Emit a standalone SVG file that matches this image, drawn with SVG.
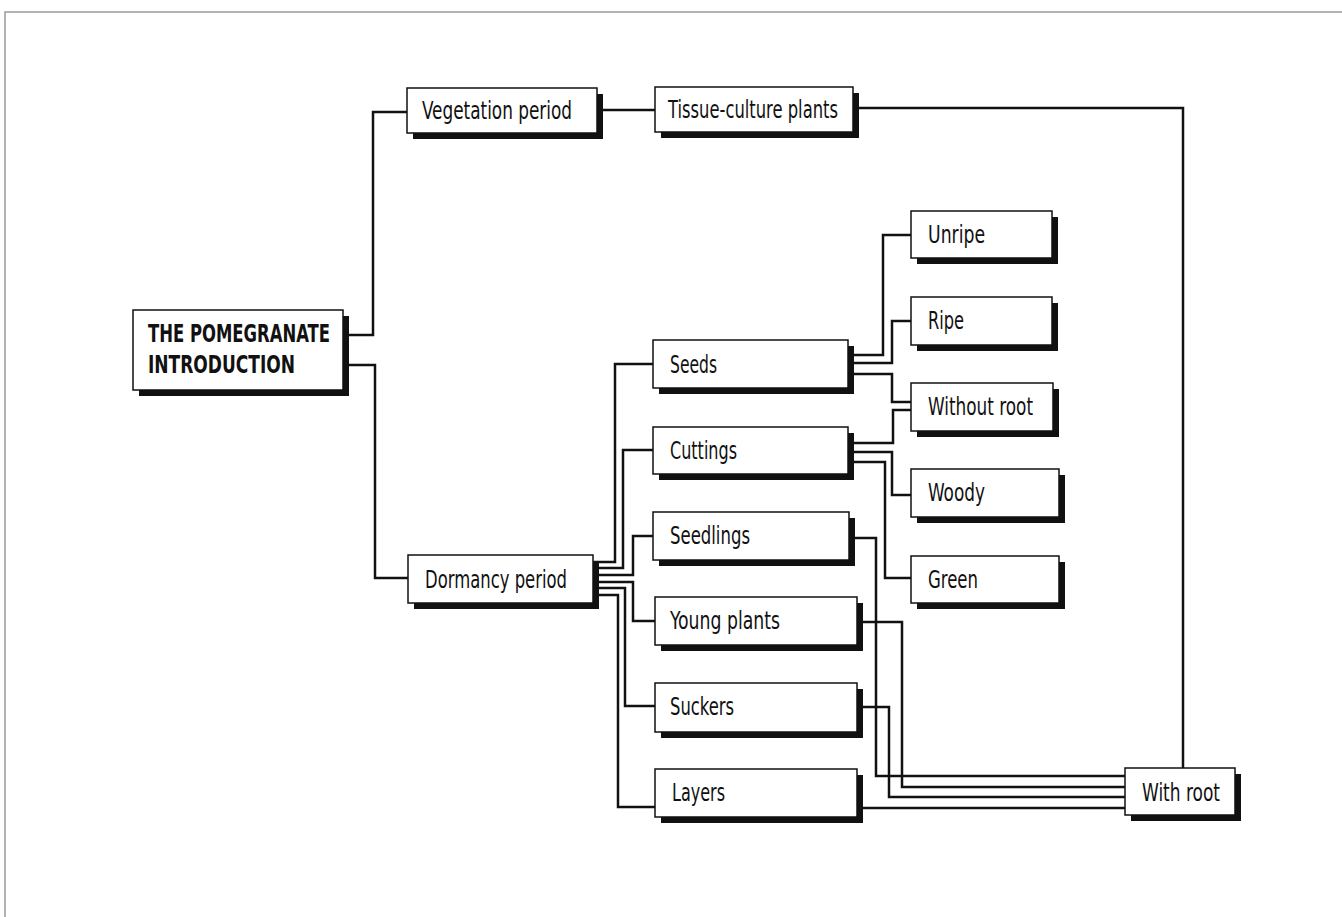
<svg xmlns="http://www.w3.org/2000/svg" width="1342" height="917" viewBox="0 0 1342 917">
<style>
.shadow{fill:#111}
.box{fill:#fff;stroke:#111;stroke-width:1.5}
.lbl{font-family:"DejaVu Sans","Liberation Sans",sans-serif;font-stretch:condensed;font-size:25px;fill:#111}
.bold{font-weight:bold;font-size:24px}
.conn path{fill:none;stroke:#111;stroke-width:2.5;stroke-linejoin:miter}
.frame{fill:none;stroke:#9a9a9a;stroke-width:1.5}
</style>
<rect width="1342" height="917" fill="#fff"/>
<path class="frame" d="M1342,12 H5 V917"/>
<g id="connectors" class="conn">
<path d="M343,335 H373 V112 H407"/>
<path d="M343,365 H375 V578 H408"/>
<path d="M597,110 H655"/>
<path d="M853,108 H1183 V768"/>
<path d="M593,562 H615 V364 H653"/>
<path d="M593,568 H623 V450 H653"/>
<path d="M593,575 H633 V536 H653"/>
<path d="M593,582 H633 V621 H655"/>
<path d="M593,588 H625 V706 H655"/>
<path d="M593,595 H618 V807 H655"/>
<path d="M848,355 H883 V235 H911"/>
<path d="M848,363 H892 V321 H911"/>
<path d="M848,374 H892 V402 H911"/>
<path d="M848,443 H893 V410 H911"/>
<path d="M848,452 H892 V495 H911"/>
<path d="M848,462 H885 V578 H911"/>
<path d="M849,538 H876 V776 H1125"/>
<path d="M857,622 H902 V787 H1125"/>
<path d="M857,707 H889 V797 H1125"/>
<path d="M857,808 H1125"/>
</g>
<g id="pomegranate"><rect class="shadow" x="139" y="316" width="210" height="80"/><rect class="box" x="133" y="310" width="210" height="80"/><text class="lbl bold" x="148" y="342" textLength="182" lengthAdjust="spacingAndGlyphs">THE POMEGRANATE</text><text class="lbl bold" x="148" y="373" textLength="147" lengthAdjust="spacingAndGlyphs">INTRODUCTION</text></g>
<g id="vegetation"><rect class="shadow" x="413" y="94" width="190" height="45"/><rect class="box" x="407" y="88" width="190" height="45"/><text class="lbl" x="422" y="119" textLength="150" lengthAdjust="spacingAndGlyphs">Vegetation period</text></g>
<g id="tissue"><rect class="shadow" x="661" y="93" width="198" height="45"/><rect class="box" x="655" y="87" width="198" height="45"/><text class="lbl" x="668" y="118" textLength="170" lengthAdjust="spacingAndGlyphs">Tissue-culture plants</text></g>
<g id="dormancy"><rect class="shadow" x="414" y="561" width="185" height="48"/><rect class="box" x="408" y="555" width="185" height="48"/><text class="lbl" x="425" y="588" textLength="142" lengthAdjust="spacingAndGlyphs">Dormancy period</text></g>
<g id="seeds"><rect class="shadow" x="659" y="346" width="195" height="48"/><rect class="box" x="653" y="340" width="195" height="48"/><text class="lbl" x="670" y="373" textLength="47" lengthAdjust="spacingAndGlyphs">Seeds</text></g>
<g id="cuttings"><rect class="shadow" x="659" y="433" width="195" height="47"/><rect class="box" x="653" y="427" width="195" height="47"/><text class="lbl" x="670" y="459" textLength="67" lengthAdjust="spacingAndGlyphs">Cuttings</text></g>
<g id="seedlings"><rect class="shadow" x="659" y="518" width="196" height="48"/><rect class="box" x="653" y="512" width="196" height="48"/><text class="lbl" x="670" y="544" textLength="80" lengthAdjust="spacingAndGlyphs">Seedlings</text></g>
<g id="young"><rect class="shadow" x="661" y="603" width="202" height="48"/><rect class="box" x="655" y="597" width="202" height="48"/><text class="lbl" x="670" y="629" textLength="110" lengthAdjust="spacingAndGlyphs">Young plants</text></g>
<g id="suckers"><rect class="shadow" x="661" y="689" width="202" height="49"/><rect class="box" x="655" y="683" width="202" height="49"/><text class="lbl" x="670" y="715" textLength="64" lengthAdjust="spacingAndGlyphs">Suckers</text></g>
<g id="layers"><rect class="shadow" x="661" y="775" width="202" height="48"/><rect class="box" x="655" y="769" width="202" height="48"/><text class="lbl" x="672" y="801" textLength="53" lengthAdjust="spacingAndGlyphs">Layers</text></g>
<g id="unripe"><rect class="shadow" x="917" y="217" width="141" height="47"/><rect class="box" x="911" y="211" width="141" height="47"/><text class="lbl" x="928" y="243" textLength="57" lengthAdjust="spacingAndGlyphs">Unripe</text></g>
<g id="ripe"><rect class="shadow" x="917" y="303" width="141" height="48"/><rect class="box" x="911" y="297" width="141" height="48"/><text class="lbl" x="928" y="329" textLength="36" lengthAdjust="spacingAndGlyphs">Ripe</text></g>
<g id="without-root"><rect class="shadow" x="917" y="389" width="142" height="48"/><rect class="box" x="911" y="383" width="142" height="48"/><text class="lbl" x="928" y="415" textLength="105" lengthAdjust="spacingAndGlyphs">Without root</text></g>
<g id="woody"><rect class="shadow" x="917" y="475" width="148" height="48"/><rect class="box" x="911" y="469" width="148" height="48"/><text class="lbl" x="928" y="501" textLength="57" lengthAdjust="spacingAndGlyphs">Woody</text></g>
<g id="green"><rect class="shadow" x="917" y="562" width="148" height="47"/><rect class="box" x="911" y="556" width="148" height="47"/><text class="lbl" x="928" y="588" textLength="50" lengthAdjust="spacingAndGlyphs">Green</text></g>
<g id="with-root"><rect class="shadow" x="1131" y="774" width="110" height="47"/><rect class="box" x="1125" y="768" width="110" height="47"/><text class="lbl" x="1142" y="801" textLength="78" lengthAdjust="spacingAndGlyphs">With root</text></g>
</svg>
